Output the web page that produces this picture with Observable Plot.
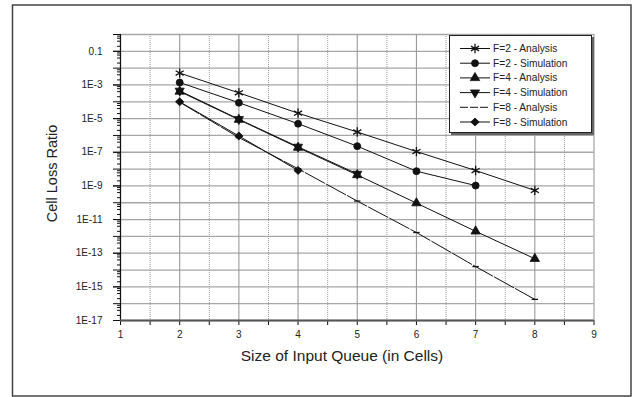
<!DOCTYPE html>
<html><head><meta charset="utf-8">
<script src="https://cdn.jsdelivr.net/npm/d3@7"></script>
<script src="https://cdn.jsdelivr.net/npm/@observablehq/plot@0.6"></script>
<style>
body{margin:0;background:#fff}
#chart{position:relative;width:644px;height:397px;overflow:hidden}
</style>
</head><body><div id="chart"></div>
<script>
// ---- data ----
const queueSizes = [2, 3, 4, 5, 6, 7, 8];
const seriesNames = ["F=2 - Analysis", "F=2 - Simulation", "F=4 - Analysis", "F=4 - Simulation", "F=8 - Analysis", "F=8 - Simulation"];
const f2Analysis   = [5.1e-3, 3.4e-4, 2.1e-5, 1.6e-6, 1.1e-7, 8.2e-9, 5.4e-10];
const f2Simulation = [1.4e-3, 8.8e-5, 5.0e-6, 2.3e-7, 7.5e-9, 1.05e-9];
const f4Analysis   = [4.1e-4, 8.7e-6, 1.9e-7, 4.5e-9, 9.5e-11, 2.0e-12, 4.7e-14];
const f4Simulation = [4.5e-4, 9.2e-6, 2.1e-7, 5.2e-9];
const f8Analysis   = [0.95e-4, 7.5e-7, 1.05e-8, 1.26e-10, 1.7e-12, 1.6e-14, 1.8e-16];
const f8Simulation = [1.0e-4, 9.3e-7, 8.3e-9];
const seriesValues = [f2Analysis, f2Simulation, f4Analysis, f4Simulation, f8Analysis, f8Simulation];

const xTickValues = [1, 2, 3, 4, 5, 6, 7, 8, 9];
const xHalfTicks = [1.5, 2.5, 3.5, 4.5, 5.5, 6.5, 7.5, 8.5];
const yDecades = [1, 1e-1, 1e-2, 1e-3, 1e-4, 1e-5, 1e-6, 1e-7, 1e-8, 1e-9, 1e-10, 1e-11, 1e-12, 1e-13, 1e-14, 1e-15, 1e-16, 1e-17];
const yTickValues = [1e-1, 1e-3, 1e-5, 1e-7, 1e-9, 1e-11, 1e-13, 1e-15, 1e-17];
const yTickLabels = ["0.1", "1E-3", "1E-5", "1E-7", "1E-9", "1E-11", "1E-13", "1E-15", "1E-17"];
const xTitle = "Size of Input Queue (in Cells)";
const yTitle = "Cell Loss Ratio";

// ---- symbols ----
const dashSym = {draw(ctx, size){ const r = Math.sqrt(size/Math.PI); ctx.moveTo(-r,0); ctx.lineTo(r,0);} };
const triDown = {draw(ctx, size){
  d3.symbolTriangle.draw({moveTo:(x,y)=>ctx.moveTo(x,-y), lineTo:(x,y)=>ctx.lineTo(x,-y), closePath:()=>ctx.closePath()}, size);
}};
const diamondSym = {draw(ctx, size){ const r = Math.sqrt(size/Math.PI); ctx.moveTo(0,-r); ctx.lineTo(r*1.05,0); ctx.lineTo(0,r); ctx.lineTo(-r*1.05,0); ctx.closePath();} };
const styles = [
  {symbol: d3.symbolAsterisk, r: 4.4, fill: "none", dash: null},
  {symbol: d3.symbolCircle, r: 3.5, fill: "#111", dash: null},
  {symbol: d3.symbolTriangle, r: 3.5, fill: "#111", dash: null},
  {symbol: triDown, r: 3.4, fill: "#111", dash: null},
  {symbol: dashSym, r: 3.2, fill: "none", dash: "22,2"},
  {symbol: diamondSym, r: 4.0, fill: "#111", dash: null}
];

const series = seriesNames.map((name, i) => ({
  name, style: styles[i],
  rows: seriesValues[i].map((v, j) => ({x: queueSizes[j], y: v}))
}));

const labelMap = new Map(yTickValues.map((v, i) => [v, yTickLabels[i]]));
const minorTicks = [];
for (const d of yDecades.slice(1)) for (const m of [2, 4, 6, 8]) minorTicks.push(d * m);

const marks = [
  Plot.ruleY(yDecades, {stroke: "#a6a6a6", strokeWidth: 1.3}),
  Plot.ruleX(xHalfTicks, {stroke: "#9a9a9a", strokeDasharray: "1,1"}),
  Plot.ruleX(xTickValues, {stroke: "#9a9a9a", strokeWidth: 1.1}),
  Plot.axisY({ticks: minorTicks, tickSize: 3, tickFormat: () => "", label: null, stroke: "#111"}),
  Plot.axisY({ticks: yDecades, tickSize: 7, tickFormat: () => "", label: null, stroke: "#111"}),
  Plot.axisY({ticks: yTickValues, tickSize: 7, tickPadding: 11, tickFormat: d => labelMap.get(d), label: null, stroke: "#111", fill: "#222"}),
  Plot.axisX({ticks: xHalfTicks, tickSize: 5, tickFormat: () => "", label: null, stroke: "#111"}),
  Plot.axisX({ticks: xTickValues, tickSize: 5, tickPadding: 5, label: null, stroke: "#111", fill: "#222"}),
  Plot.ruleX([1], {stroke: "#111", strokeWidth: 1.2}),
  Plot.ruleY([1e-17], {stroke: "#555", strokeWidth: 2.2})
];
for (const s of series) {
  marks.push(Plot.line(s.rows, {x: "x", y: "y", stroke: "#111", strokeWidth: 1, strokeDasharray: s.style.dash}));
}
for (const s of series) {
  marks.push(Plot.dot(s.rows, {x: "x", y: "y", symbol: () => s.style.symbol, r: s.style.r, fill: s.style.fill, stroke: "#111", strokeWidth: s.style.fill === "none" ? 1.3 : 0.8}));
}

const svg = Plot.plot({
  width: 644, height: 397,
  marginLeft: 120, marginRight: 50.5, marginTop: 34, marginBottom: 77,
  style: {fontFamily: "'Liberation Sans', Arial, sans-serif", fontSize: "10px", background: "white", overflow: "visible"},
  x: {domain: [1, 9]},
  y: {type: "log", domain: [1e-17, 1]},
  symbol: {type: "identity"},
  marks
});
document.getElementById("chart").appendChild(svg);

// ---- titles, frame, legend ----
const g = d3.select(svg).append("g").attr("font-family", "'Liberation Sans', Arial, sans-serif");
g.append("text").attr("x", 342).attr("y", 361).attr("text-anchor", "middle").attr("font-size", 15.5).attr("fill", "#222").text(xTitle);
g.append("text").attr("transform", "translate(56.5,173.5) rotate(-90)").attr("text-anchor", "middle").attr("font-size", 14.5).attr("fill", "#222").text(yTitle);
g.append("rect").attr("x", 12.5).attr("y", 5).attr("width", 618.5).attr("height", 391).attr("fill", "none").attr("stroke", "#444").attr("stroke-width", 1.5);

const lg = g.append("g");
lg.append("rect").attr("x", 451).attr("y", 37).attr("width", 143).attr("height", 98).attr("fill", "#666");
lg.append("rect").attr("x", 449.5).attr("y", 35.5).attr("width", 142).attr("height", 97).attr("fill", "white").attr("stroke", "#222").attr("stroke-width", 1);
series.forEach((s, i) => {
  const yy = 48.5 + i * 14.7;
  lg.append("line").attr("x1", 460).attr("x2", 490).attr("y1", yy).attr("y2", yy).attr("stroke", "#111").attr("stroke-dasharray", s.style.dash ? "8,2" : null);
  if (s.style.symbol !== dashSym) {
    lg.append("path").attr("transform", `translate(475,${yy})`)
      .attr("d", d3.symbol().type(s.style.symbol).size(Math.PI * s.style.r * s.style.r)())
      .attr("fill", s.style.fill).attr("stroke", "#111").attr("stroke-width", s.style.fill === "none" ? 1.3 : 0.8);
  }
  lg.append("text").attr("x", 493).attr("y", yy).attr("dy", "0.35em").attr("text-anchor", "start").attr("font-size", 10.2).attr("fill", "#222").text(s.name);
});
</script></body></html>
